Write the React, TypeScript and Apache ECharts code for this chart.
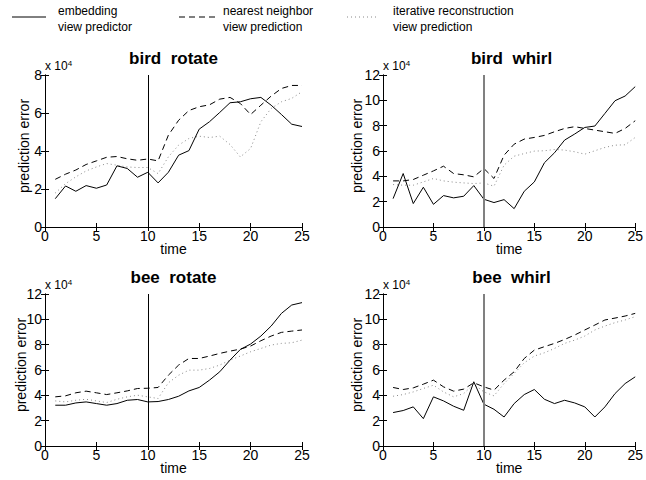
import React, { useEffect, useRef } from "react";
import * as echarts from "echarts";

const FONT = '"Liberation Sans", Arial, Helvetica, sans-serif';

const times = [1, 2, 3, 4, 5, 6, 7, 8, 9, 10, 11, 12, 13, 14, 15, 16, 17, 18, 19, 20, 21, 22, 23, 24, 25];
const xTicks = [0, 25, 5];

// values in units of 10^4
const birdRotateEmbed = [1.49, 2.16, 1.88, 2.18, 2.04, 2.21, 3.22, 3.08, 2.62, 2.88, 2.32, 2.88, 3.78, 4.02, 5.15, 5.54, 6.03, 6.54, 6.59, 6.75, 6.82, 6.41, 5.92, 5.41, 5.29];
const birdRotateNN = [2.51, 2.78, 3.0, 3.29, 3.48, 3.67, 3.71, 3.59, 3.51, 3.58, 3.48, 4.83, 5.62, 6.13, 6.33, 6.43, 6.73, 6.82, 6.5, 5.92, 6.41, 6.89, 7.29, 7.45, 7.45];
const birdRotateIter = [1.79, 2.28, 2.64, 2.95, 3.16, 3.34, 3.25, 3.16, 3.13, 3.13, 2.81, 3.69, 4.31, 4.66, 4.78, 4.71, 4.78, 4.34, 3.69, 4.13, 5.54, 6.24, 6.59, 6.77, 7.12];

const birdWhirlEmbed = [2.24, 4.22, 1.85, 3.14, 1.79, 2.48, 2.3, 2.43, 3.27, 2.19, 1.93, 2.16, 1.45, 2.82, 3.56, 5.07, 5.86, 6.86, 7.34, 7.86, 7.97, 8.97, 9.97, 10.34, 11.08];
const birdWhirlNN = [3.64, 3.64, 3.75, 4.09, 4.43, 4.8, 4.22, 4.12, 3.96, 4.62, 3.83, 5.67, 6.54, 6.94, 7.07, 7.23, 7.52, 7.78, 7.92, 7.78, 7.65, 7.52, 7.39, 7.78, 8.39];
const birdWhirlIter = [3.35, 3.3, 3.3, 3.56, 3.83, 3.64, 3.54, 3.48, 3.43, 3.48, 3.22, 4.88, 5.59, 5.8, 5.99, 6.02, 6.12, 6.07, 5.94, 5.75, 6.02, 6.28, 6.46, 6.49, 7.07];

const beeRotateEmbed = [3.22, 3.22, 3.4, 3.48, 3.35, 3.22, 3.35, 3.61, 3.67, 3.48, 3.51, 3.67, 3.93, 4.35, 4.62, 5.2, 5.86, 6.78, 7.62, 8.05, 8.68, 9.47, 10.47, 11.13, 11.32];
const beeRotateNN = [3.88, 3.96, 4.2, 4.33, 4.2, 4.06, 4.2, 4.35, 4.54, 4.56, 4.62, 5.59, 6.39, 6.91, 6.91, 7.1, 7.31, 7.49, 7.65, 7.89, 8.31, 8.68, 8.97, 9.07, 9.16];
const beeRotateIter = [3.56, 3.48, 3.61, 3.69, 3.56, 3.43, 3.69, 3.88, 4.01, 3.88, 3.75, 4.99, 5.59, 5.99, 5.99, 6.12, 6.39, 6.78, 7.1, 7.44, 7.7, 7.97, 8.1, 8.15, 8.36];

const beeWhirlEmbed = [2.64, 2.8, 3.09, 2.16, 3.88, 3.56, 3.14, 2.82, 5.07, 3.3, 2.9, 2.29, 3.35, 4.06, 4.46, 3.69, 3.35, 3.61, 3.4, 3.09, 2.29, 3.09, 4.14, 4.93, 5.46];
const beeWhirlNN = [4.62, 4.46, 4.59, 4.88, 5.2, 4.67, 4.33, 4.49, 4.99, 4.67, 4.41, 5.2, 5.86, 6.91, 7.57, 7.84, 8.1, 8.41, 8.76, 9.16, 9.55, 9.95, 10.1, 10.26, 10.47];
const beeWhirlIter = [3.93, 4.06, 4.27, 4.54, 4.8, 4.27, 3.88, 4.14, 4.88, 4.27, 3.96, 4.93, 5.73, 6.57, 7.1, 7.36, 7.7, 8.1, 8.36, 8.68, 9.16, 9.47, 9.74, 9.95, 10.21];

const panelTitles = ["bird  rotate", "bird  whirl", "bee  rotate", "bee  whirl"];
const yMaxes = [8, 12, 12, 12];
const splitTime = 10;
const legendLabels = [
  ["embedding", "view predictor"],
  ["nearest neighbor", "view prediction"],
  ["iterative reconstruction", "view prediction"],
];

const panelData = [
  [birdRotateEmbed, birdRotateNN, birdRotateIter],
  [birdWhirlEmbed, birdWhirlNN, birdWhirlIter],
  [beeRotateEmbed, beeRotateNN, beeRotateIter],
  [beeWhirlEmbed, beeWhirlNN, beeWhirlIter],
];

const layout = [
  { left: 45, top: 75, nameGap: 14, markColor: "#000", markWidth: 1 },
  { left: 383, top: 75, nameGap: 19, markColor: "#808080", markWidth: 2 },
  { left: 45, top: 294, nameGap: 17, markColor: "#000", markWidth: 1 },
  { left: 383, top: 294, nameGap: 19, markColor: "#808080", markWidth: 2 },
];
const W = 257;
const H = 152;

const lineStyles = [
  { color: "#000", width: 1, type: "solid" as any },
  { color: "#000", width: 1, type: [6, 4] as any },
  { color: "#888", width: 1, type: [1, 3] as any },
];

export default function App() {
  const ref = useRef<HTMLDivElement>(null);
  useEffect(() => {
    const chart = echarts.init(ref.current!, null, { renderer: "svg" });
    const grid: any[] = [];
    const xAxis: any[] = [];
    const yAxis: any[] = [];
    const series: any[] = [];
    const graphic: any[] = [];
    const axisLine = { show: true, lineStyle: { color: "#000", width: 1 } };
    const tick = { show: true, inside: true, length: 4, lineStyle: { color: "#000" } };
    const lbl = { color: "#000", fontSize: 14, fontFamily: FONT };

    panelData.forEach((lines, i) => {
      const L = layout[i];
      grid.push({ left: L.left, top: L.top, width: W, height: H, containLabel: false });
      const common = { gridIndex: i, type: "value", min: xTicks[0], max: xTicks[1], interval: xTicks[2], splitLine: { show: false }, axisLine, axisTick: tick };
      xAxis.push({
        ...common,
        position: "bottom",
        name: "time",
        nameLocation: "middle",
        nameGap: 15,
        nameMoveOverlap: false,
        nameTextStyle: { color: "#000", fontSize: 14, fontFamily: FONT },
        axisLabel: { ...lbl, margin: 2 },
      });
      xAxis.push({ ...common, position: "top", axisLabel: { show: false } });
      const yc = { gridIndex: i, type: "value", min: 0, max: yMaxes[i], interval: 2, splitLine: { show: false }, axisLine, axisTick: tick };
      yAxis.push({
        ...yc,
        position: "left",
        name: "prediction error",
        nameLocation: "middle",
        nameGap: L.nameGap,
        nameMoveOverlap: false,
        nameRotate: 90,
        nameTextStyle: { color: "#000", fontSize: 14, fontFamily: FONT, verticalAlign: "bottom", padding: [0, 0, 0, 10] },
        axisLabel: { ...lbl, margin: 3 },
      });
      yAxis.push({ ...yc, position: "right", axisLabel: { show: false } });

      lines.forEach((vals, k) => {
        const s: any = {
          type: "line",
          xAxisIndex: i * 2,
          yAxisIndex: i * 2,
          data: times.map((t, j) => [t, vals[j]]),
          symbol: "none",
          lineStyle: lineStyles[k],
          z: 3 - k,
        };
        if (k === 0) {
          s.markLine = {
            silent: true,
            symbol: "none",
            label: { show: false },
            lineStyle: { color: L.markColor, width: L.markWidth, type: "solid" },
            data: [{ xAxis: splitTime }],
          };
        }
        series.push(s);
      });

      graphic.push({
        type: "text",
        x: L.left + W / 2,
        y: L.top - 17,
        style: { text: panelTitles[i], align: "center", verticalAlign: "middle", font: `bold 17px ${FONT}`, fill: "#000" },
      });
      graphic.push({
        type: "text",
        x: L.left,
        y: L.top - 2,
        style: {
          text: "x 10{sup|4}",
          align: "left",
          verticalAlign: "bottom",
          font: `12px ${FONT}`,
          fill: "#000",
          rich: { sup: { fontSize: 8, verticalAlign: "top", padding: [0, 0, 6, 0], fontFamily: FONT } },
        },
      });
    });

    const legendPos = [
      { x1: 12, x2: 46, tx: 58 },
      { x1: 179, x2: 216, tx: 223 },
      { x1: 347, x2: 376, tx: 393 },
    ];
    legendPos.forEach((p, k) => {
      graphic.push({
        type: "line",
        shape: { x1: p.x1, y1: 17, x2: p.x2, y2: 17 },
        style: { stroke: lineStyles[k].color, lineWidth: 1, lineDash: k === 0 ? null : k === 1 ? [6, 4] : [1, 3] },
      });
      graphic.push({
        type: "text",
        x: p.tx,
        y: 11,
        style: { text: legendLabels[k][0], verticalAlign: "middle", font: `12px ${FONT}`, fill: "#000" },
      });
      graphic.push({
        type: "text",
        x: p.tx,
        y: 27,
        style: { text: legendLabels[k][1], verticalAlign: "middle", font: `12px ${FONT}`, fill: "#000" },
      });
    });

    chart.setOption({
      animation: false,
      backgroundColor: "#fff",
      textStyle: { fontFamily: FONT },
      grid,
      xAxis,
      yAxis,
      series,
      graphic,
    });
    return () => chart.dispose();
  }, []);
  return <div ref={ref} style={{ position: "fixed", left: 0, top: 0, width: 646, height: 480 }} />;
}
